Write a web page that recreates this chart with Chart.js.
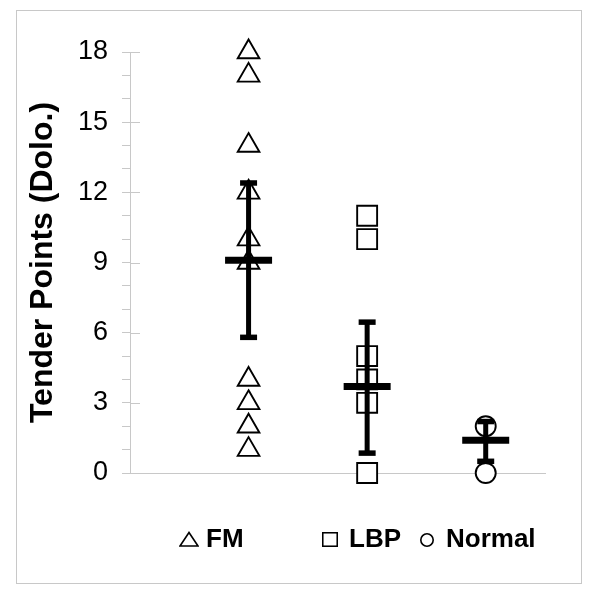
<!DOCTYPE html>
<html>
<head>
<meta charset="utf-8">
<script src="https://cdn.jsdelivr.net/npm/chart.js@4.4.1/dist/chart.umd.min.js"></script>
<style>
  body { margin: 0; background: #fff; font-family: 'Liberation Sans', Arial, sans-serif; }
  #wrap { position: relative; width: 600px; height: 600px; }
  #frame { position: absolute; left: 16px; top: 10px; width: 566px; height: 574px; box-sizing: border-box; border: 1px solid #c8c8c8; }
  canvas { position: absolute; left: 0; top: 0; }
  .legend-item { position: absolute; top: 523px; display: flex; align-items: baseline; font-weight: bold; font-size: 26px; line-height: 30px; color: #000; }
  .legend-fm { left: 179px; }
  .legend-lbp { left: 322px; }
  .legend-normal { left: 420px; }
</style>
</head>
<body>
<div id="wrap">
  <div id="frame"></div>
  <canvas id="chart" width="600" height="600"></canvas>
  <div id="legend"></div>
</div>
<script>
// groups on the x axis
const groups = ['FM', 'LBP', 'Normal'];
const groupX = [1, 2, 3];

// individual scores
const fmValues = [18, 17, 14, 12, 10, 9, 4, 3, 2, 1];
const lbpValues = [11, 10, 5, 4, 3, 0];
const normalValues = [2, 0];

// mean and error bar ends
const means = [9.1, 3.7, 1.4];
const upper = [12.4, 6.45, 2.2];
const lower = [5.8, 0.85, 0.5];

// labelled y ticks (minor ticks every 1)
const yTicks = [0, 3, 6, 9, 12, 15, 18];

const FONT = "'Liberation Sans', Arial, sans-serif";

const toPoints = (x, values) => values.map(v => ({ x: x, y: v }));

// error bar stems
const stemSets = groupX.map((x, i) => ({
  type: 'line',
  label: 'stem ' + groups[i],
  data: [{ x: x, y: lower[i] }, { x: x, y: upper[i] }],
  showLine: true,
  borderColor: '#000',
  borderWidth: 5,
  pointRadius: 0,
  clip: false
}));

const capSet = {
  label: 'caps',
  data: groupX.flatMap((x, i) => [{ x: x, y: lower[i] }, { x: x, y: upper[i] }]),
  pointStyle: 'line',
  pointRadius: 8.5,
  borderColor: '#000',
  borderWidth: 5.5,
  clip: false
};

const meanSet = {
  label: 'mean',
  data: groupX.map((x, i) => ({ x: x, y: means[i] })),
  pointStyle: 'line',
  pointRadius: 23.5,
  borderColor: '#000',
  borderWidth: 7,
  clip: false
};

const markerSets = [
  { label: groups[0], data: toPoints(groupX[0], fmValues), pointStyle: 'triangle', pointRadius: 12.5 },
  { label: groups[1], data: toPoints(groupX[1], lbpValues), pointStyle: 'rect', pointRadius: 14.1 },
  { label: groups[2], data: toPoints(groupX[2], normalValues), pointStyle: 'circle', pointRadius: 10 }
].map(d => Object.assign(d, {
  borderColor: '#000',
  backgroundColor: '#fff',
  borderWidth: 1.9,
  clip: false,
  isMarker: true
}));

// major ticks also poke into the plot area
const majorTicks = {
  id: 'majorTicks',
  beforeDatasetsDraw(chart) {
    const { ctx, scales: { y }, chartArea } = chart;
    ctx.save();
    ctx.strokeStyle = '#c8c8c8';
    ctx.lineWidth = 1;
    yTicks.forEach(v => {
      const py = Math.round(y.getPixelForValue(v)) + 0.5;
      ctx.beginPath();
      ctx.moveTo(chartArea.left, py);
      ctx.lineTo(chartArea.left + 10, py);
      ctx.stroke();
    });
    ctx.restore();
  }
};

const chart = new Chart(document.getElementById('chart'), {
  type: 'scatter',
  data: { datasets: [meanSet, capSet, ...stemSets, ...markerSets] },
  options: {
    responsive: false,
    animation: false,
    devicePixelRatio: 1,
    layout: { padding: { top: 52, right: 55, bottom: 127, left: 0 } },
    plugins: { legend: { display: false }, tooltip: { enabled: false } },
    scales: {
      x: {
        type: 'linear',
        min: 0,
        max: 3.5,
        ticks: { display: false },
        grid: { display: false, drawTicks: false },
        border: { display: true, color: '#c8c8c8', width: 1 },
        afterFit: s => { s.height = 0; }
      },
      y: {
        min: 0,
        max: 18,
        ticks: {
          stepSize: 1,
          autoSkip: false,
          padding: 14,
          color: '#000',
          font: { family: FONT, size: 27 },
          callback: v => (yTicks.includes(v) ? v : '')
        },
        grid: { display: true, drawOnChartArea: false, drawTicks: true, tickLength: 8, tickColor: '#c8c8c8' },
        border: { display: true, color: '#c8c8c8', width: 1 },
        title: {
          display: true,
          text: 'Tender Points (Dolo.)',
          color: '#000',
          font: { family: FONT, size: 32, weight: 'bold' },
          padding: { top: 24, bottom: 0 }
        },
        afterFit: s => { s.width = 130; }
      }
    }
  },
  plugins: [majorTicks]
});

// html legend built from the marker datasets
const shapes = {
  triangle: '<svg width="20" height="16" style="margin-right:7px"><polygon points="10,1.5 19,15 1,15" fill="#fff" stroke="#000" stroke-width="1.6"/></svg>',
  rect: '<svg width="16" height="15" style="margin-right:11px"><rect x="0.75" y="0.75" width="14.5" height="13.5" fill="#fff" stroke="#000" stroke-width="1.6"/></svg>',
  circle: '<svg width="14" height="14" style="margin-right:12px"><circle cx="7" cy="7" r="6.2" fill="#fff" stroke="#000" stroke-width="1.6"/></svg>'
};
const legendEl = document.getElementById('legend');
chart.data.datasets.filter(d => d.isMarker).forEach(d => {
  const item = document.createElement('div');
  item.className = 'legend-item legend-' + d.label.toLowerCase();
  item.innerHTML = shapes[d.pointStyle] + '<span>' + d.label + '</span>';
  legendEl.appendChild(item);
});
</script>
</body>
</html>
